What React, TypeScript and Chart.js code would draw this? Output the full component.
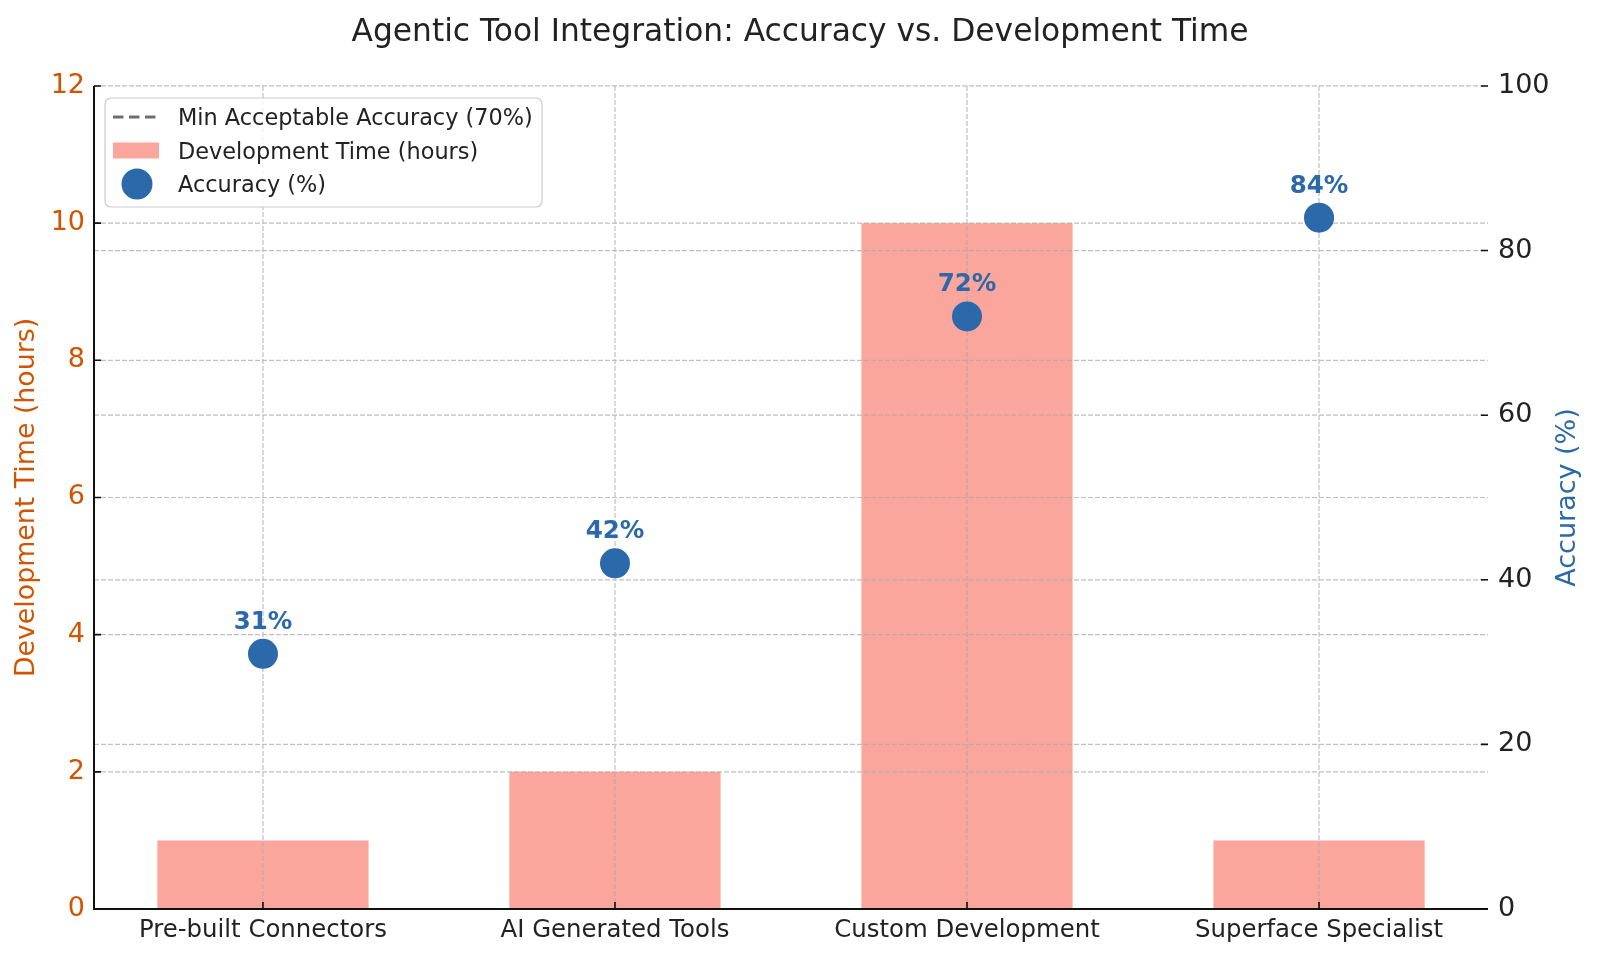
import React, { useEffect, useRef } from 'react';
import { Chart, registerables } from 'chart.js';

Chart.register(...registerables);

const categories = ['Pre-built Connectors', 'AI Generated Tools', 'Custom Development', 'Superface Specialist'];
const devHours = [1, 2, 10, 1];
const accuracy = [31, 42, 72, 84];
const minAccuracy = [70, 70, 70, 70];
const hourTicks = [0, 2, 4, 6, 8, 10, 12];
const accTicks = [0, 20, 40, 60, 80, 100];

const FONT = 'DejaVu Sans';
const ORANGE = '#d35400';
const BLUE = '#2b69aa';
const SALMON = 'rgba(250,128,114,0.7)';
const GRID = 'rgba(170,170,170,0.75)';

// grid drawn over the bars but under the dots, like the twin axes in the original
const overlayPlugin = {
  id: 'overlay',
  beforeDatasetDraw(chart: any, args: any) {
    if (args.index !== 2) return;
    const { ctx, chartArea: a, scales } = chart;
    ctx.save();
    ctx.strokeStyle = GRID;
    ctx.lineWidth = 1.2;
    ctx.setLineDash([5, 2]);
    ctx.beginPath();
    categories.forEach((_, i) => {
      const px = scales.x.getPixelForValue(i);
      ctx.moveTo(px, a.top);
      ctx.lineTo(px, a.bottom);
    });
    hourTicks.filter((v) => v > 0).forEach((v) => {
      const py = scales.y.getPixelForValue(v);
      ctx.moveTo(a.left, py);
      ctx.lineTo(a.right, py);
    });
    accTicks.filter((v) => v > 0).forEach((v) => {
      const py = scales.y1.getPixelForValue(v);
      ctx.moveTo(a.left, py);
      ctx.lineTo(a.right, py);
    });
    ctx.stroke();
    ctx.restore();
  },
  afterDatasetsDraw(chart: any) {
    const { ctx, chartArea: a, scales } = chart;
    ctx.save();
    // value labels
    const meta = chart.getDatasetMeta(2);
    ctx.fillStyle = BLUE;
    ctx.font = `bold 24.5px "${FONT}"`;
    ctx.textAlign = 'center';
    ctx.textBaseline = 'alphabetic';
    meta.data.forEach((pt: any, i: number) => {
      ctx.fillText(`${accuracy[i]}%`, pt.x, pt.y - 25);
    });
    // spines
    ctx.strokeStyle = '#111';
    ctx.lineWidth = 2;
    ctx.beginPath();
    ctx.moveTo(a.left, a.top);
    ctx.lineTo(a.left, a.bottom + 1);
    ctx.moveTo(a.left - 1, a.bottom);
    ctx.lineTo(a.right, a.bottom);
    ctx.stroke();
    // inward ticks
    ctx.lineWidth = 1.6;
    ctx.beginPath();
    categories.forEach((_, i) => {
      const px = scales.x.getPixelForValue(i);
      ctx.moveTo(px, a.bottom);
      ctx.lineTo(px, a.bottom - 7);
    });
    hourTicks.forEach((v) => {
      const py = scales.y.getPixelForValue(v);
      ctx.moveTo(a.left, py);
      ctx.lineTo(a.left + 7, py);
    });
    accTicks.forEach((v) => {
      const py = scales.y1.getPixelForValue(v);
      ctx.moveTo(a.right, py);
      ctx.lineTo(a.right - 7, py);
    });
    ctx.stroke();
    ctx.restore();
  },
  afterDraw(chart: any) {
    const { ctx, chartArea: a } = chart;
    const ds = chart.data.datasets;
    ctx.save();
    // right axis title, reading bottom to top
    ctx.translate(1568, (a.top + a.bottom) / 2);
    ctx.rotate(-Math.PI / 2);
    ctx.fillStyle = BLUE;
    ctx.font = `27px "${FONT}"`;
    ctx.textAlign = 'center';
    ctx.textBaseline = 'middle';
    ctx.fillText('Accuracy (%)', 0, 0);
    ctx.restore();

    // legend
    ctx.save();
    const x0 = 105, y0 = 98, w = 437, h = 109;
    ctx.fillStyle = 'rgba(255,255,255,0.8)';
    ctx.strokeStyle = '#cccccc';
    ctx.lineWidth = 1.2;
    ctx.beginPath();
    ctx.roundRect(x0, y0, w, h, 6);
    ctx.fill();
    ctx.stroke();

    const rows = [117, 150.5, 184];
    // dashed line handle
    ctx.strokeStyle = ds[0].borderColor;
    ctx.lineWidth = 3;
    ctx.setLineDash([10.5, 5.5]);
    ctx.beginPath();
    ctx.moveTo(113, rows[0]);
    ctx.lineTo(159, rows[0]);
    ctx.stroke();
    ctx.setLineDash([]);
    // bar handle
    ctx.fillStyle = ds[1].backgroundColor;
    ctx.fillRect(113, rows[1] - 8, 46, 16);
    // dot handle
    ctx.fillStyle = ds[2].backgroundColor;
    ctx.beginPath();
    ctx.arc(137, rows[2], 15.5, 0, Math.PI * 2);
    ctx.fill();

    ctx.fillStyle = '#222';
    ctx.font = `22.4px "${FONT}"`;
    ctx.textAlign = 'left';
    ctx.textBaseline = 'alphabetic';
    ds.forEach((d: any, i: number) => {
      ctx.fillText(d.label, 178, rows[i] + 8);
    });
    ctx.restore();
  },
};

const App: React.FC = () => {
  const chartRef = useRef<HTMLCanvasElement | null>(null);

  useEffect(() => {
    let chartInstance: Chart | null = null;
    Chart.defaults.font.family = FONT;

    if (chartRef.current) {
      const ctx = chartRef.current.getContext('2d');
      if (ctx) {
        chartInstance = new Chart(ctx, {
          type: 'bar',
          data: {
            datasets: [
              {
                type: 'line',
                label: 'Min Acceptable Accuracy (70%)',
                data: minAccuracy.map((v, i) => ({ x: i, y: v })),
                yAxisID: 'y',
                borderColor: '#6e6e6e',
                borderWidth: 3,
                borderDash: [10.5, 5.5],
                pointRadius: 0,
                order: 1,
              },
              {
                type: 'bar',
                label: 'Development Time (hours)',
                data: devHours.map((v, i) => ({ x: i, y: v })),
                yAxisID: 'y',
                backgroundColor: SALMON,
                barPercentage: 0.6,
                categoryPercentage: 1,
                order: 2,
              },
              {
                type: 'scatter',
                label: 'Accuracy (%)',
                data: accuracy.map((v, i) => ({ x: i, y: v })),
                yAxisID: 'y1',
                backgroundColor: BLUE,
                borderColor: BLUE,
                borderWidth: 0,
                pointRadius: 15,
                order: 0,
              },
            ] as any,
          },
          options: {
            animation: false,
            responsive: false,
            layout: { padding: 0 },
            plugins: {
              legend: { display: false },
              tooltip: { enabled: false },
              title: {
                display: true,
                text: 'Agentic Tool Integration: Accuracy vs. Development Time',
                color: '#222',
                font: { size: 31.3, weight: 'normal' },
                padding: { top: 13.6, bottom: 34.8 },
              },
            },
            scales: {
              x: {
                type: 'linear',
                offset: false,
                min: -0.48,
                max: 3.48,
                afterBuildTicks: (s: any) => {
                  s.ticks = categories.map((_, i) => ({ value: i }));
                },
                afterFit: (s: any) => {
                  s.height = 49;
                },
                grid: { display: false, drawTicks: false, offset: false },
                border: { display: false },
                ticks: {
                  autoSkip: false,
                  maxRotation: 0,
                  padding: 7,
                  color: '#222',
                  font: { size: 24.4 },
                  callback: (v: any) => categories[Number(v)] ?? '',
                },
              },
              y: {
                position: 'left',
                min: 0,
                max: 12,
                afterFit: (s: any) => {
                  s.width = 94;
                },
                grid: { display: false, drawTicks: false },
                border: { display: false },
                ticks: { stepSize: 2, padding: 9, color: ORANGE, font: { size: 27 } },
                title: {
                  display: true,
                  text: 'Development Time (hours)',
                  color: ORANGE,
                  font: { size: 26.8 },
                  padding: { top: 11, bottom: 0 },
                },
              },
              y1: {
                position: 'right',
                min: 0,
                max: 100,
                afterFit: (s: any) => {
                  s.width = 112;
                },
                grid: { display: false, drawTicks: false },
                border: { display: false },
                ticks: { stepSize: 20, padding: 10, color: '#222', font: { size: 27 } },
              },
            },
          },
          plugins: [overlayPlugin],
        });
      }
    }

    return () => {
      if (chartInstance) {
        chartInstance.destroy();
      }
    };
  }, []);

  return (
    <div style={{ position: 'absolute', left: 0, top: 0, width: '1600px', height: '958px', background: '#fff' }}>
      <canvas ref={chartRef} width={1600} height={958} style={{ width: '1600px', height: '958px' }}></canvas>
    </div>
  );
};

export default App;
